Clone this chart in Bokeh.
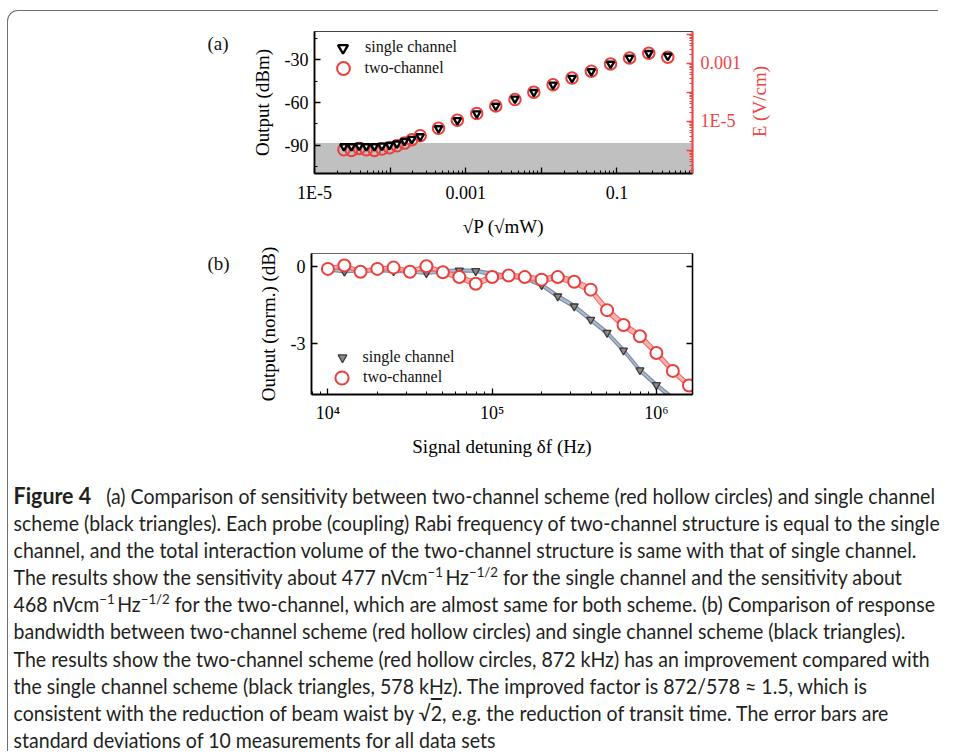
from bokeh.plotting import figure
from bokeh.models import (Range1d, LogAxis, LinearAxis, LogScale, FixedTicker, Legend,
                          LegendItem, BoxAnnotation, Div)
from bokeh.layouts import column, row
from bokeh.embed import file_html
from bokeh.resources import INLINE

SERIF = "Liberation Serif"
RED = "#e8403c"
E_RED = "#ee4444"

# ---------------- panel (a) data ----------------
sqrtP = [2.45e-5, 3.08e-5, 3.9e-5, 4.85e-5, 6.2e-5, 7.8e-5, 9.8e-5, 1.23e-4, 1.55e-4,
         1.94e-4, 2.5e-4, 4.37e-4, 7.76e-4, 1.4e-3, 2.5e-3, 4.48e-3, 7.96e-3, 1.43e-2,
         2.55e-2, 4.59e-2, 8.24e-2, 0.147, 0.264, 0.471]
out_single = [-90.9, -90.9, -90.5, -90.9, -90.9, -90.5, -90.0, -89.0, -87.2, -85.7, -83.9,
              -78.2, -72.5, -67.8, -62.4, -57.4, -52.7, -47.5, -42.8, -38.0, -32.8, -28.6,
              -25.3, -27.2]
out_two = [-93.3, -93.8, -92.4, -93.3, -93.8, -92.8, -91.9, -90.5, -88.6, -86.2, -83.4,
           -78.2, -72.5, -67.8, -62.4, -57.9, -52.7, -47.5, -42.8, -38.0, -32.8, -28.6,
           -25.3, -28.1]
noise_floor = -88.5

xa_major = [1e-5, 1e-4, 1e-3, 1e-2, 1e-1, 1.0]
xa_labels = ["1E-5", "", "0.001", "", "0.1", ""]
ya_major = [-30, -60, -90]
ya_labels = ["-30", "-60", "-90"]
ya_minor = [-15, -45, -75, -105]
e_major = [1e-7, 1e-6, 1e-5, 1e-4, 1e-3, 1e-2, 1e-1]
e_labels = ["", "", "1E-5", "", "0.001", "", ""]

# ---------------- panel (b) data ----------------
detuning = [1.0e4, 1.26e4, 1.58e4, 2.0e4, 2.51e4, 3.16e4, 3.98e4, 5.01e4, 6.31e4, 7.94e4,
            1.0e5, 1.26e5, 1.58e5, 2.0e5, 2.51e5, 3.16e5, 3.98e5, 5.01e5, 6.31e5, 7.94e5,
            1.0e6, 1.26e6, 1.58e6]
norm_two = [-0.10, 0.03, -0.21, -0.10, -0.05, -0.21, 0.00, -0.23, -0.42, -0.68, -0.42,
            -0.36, -0.42, -0.52, -0.42, -0.60, -0.91, -1.71, -2.29, -2.73, -3.38, -4.08,
            -4.65]
err_two = [0.08, 0.07, 0.08, 0.07, 0.08, 0.08, 0.08, 0.09, 0.10, 0.11, 0.10, 0.09, 0.10,
           0.10, 0.11, 0.12, 0.13, 0.14, 0.13, 0.12, 0.12, 0.11, 0.10]
detuning_single = [1.0e4, 1.26e4, 1.58e4, 2.0e4, 2.51e4, 3.16e4, 3.98e4, 5.01e4, 6.31e4,
                   7.94e4, 1.0e5, 1.26e5, 1.58e5, 2.0e5, 2.51e5, 3.16e5, 3.98e5, 5.01e5,
                   6.31e5, 7.94e5, 1.0e6, 1.26e6]
norm_single = [-0.12, -0.20, -0.15, -0.15, -0.18, -0.20, -0.26, -0.20, -0.16, -0.18, -0.30,
               -0.38, -0.45, -0.73, -1.17, -1.56, -2.08, -2.59, -3.28, -4.05, -4.63, -5.15]
err_single = [0.06, 0.06, 0.06, 0.06, 0.06, 0.06, 0.06, 0.06, 0.06, 0.06, 0.07, 0.07, 0.07,
              0.07, 0.08, 0.08, 0.08, 0.08, 0.08, 0.08, 0.08, 0.08]
xb_major = [1e4, 1e5, 1e6]
xb_labels = ["10⁴", "10⁵", "10⁶"]
yb_major = [0, -3]
yb_labels = ["0", "-3"]
yb_right_labels = ["", ""]

caption_lines = [
    "<b style='font-size:23px'>Figure 4</b>&nbsp;&nbsp; (a) Comparison of sensitivity between two-channel scheme (red hollow circles) and single channel",
    "scheme (black triangles). Each probe (coupling) Rabi frequency of two-channel structure is equal to the single",
    "channel, and the total interaction volume of the two-channel structure is same with that of single channel.",
    "The results show the sensitivity about 477 nVcm<sup>−1</sup>&thinsp;Hz<sup>−1/2</sup> for the single channel and the sensitivity about",
    "468 nVcm<sup>−1</sup>&thinsp;Hz<sup>−1/2</sup> for the two-channel, which are almost same for both scheme. (b) Comparison of response",
    "bandwidth between two-channel scheme (red hollow circles) and single channel scheme (black triangles).",
    "The results show the two-channel scheme (red hollow circles, 872 kHz) has an improvement compared with",
    "the single channel scheme (black triangles, 578 kHz). The improved factor is 872/578 ≈ 1.5, which is",
    "consistent with the reduction of beam waist by √<span style='text-decoration:overline'>2</span>, e.g. the reduction of transit time. The error bars are",
    "standard deviations of 10 measurements for all data sets",
]


def log_minor(decades):
    return [m * d for d in decades for m in range(2, 10)]


def style_axis(ax, color="black", width=1.8):
    ax.axis_line_color = color
    ax.axis_line_width = width
    ax.major_tick_line_color = color
    ax.minor_tick_line_color = color
    ax.major_tick_in = 6
    ax.major_tick_out = 0
    ax.minor_tick_in = 3
    ax.minor_tick_out = 0
    ax.major_tick_line_width = 1.3
    ax.minor_tick_line_width = 1
    ax.major_label_text_font = SERIF
    ax.major_label_text_font_size = "18px"
    ax.major_label_text_color = color
    ax.axis_label_text_font = SERIF
    ax.axis_label_text_font_size = "19px"
    ax.axis_label_text_font_style = "normal"
    ax.axis_label_text_color = color


def add_legend(p, renderer, text, glyph, loc, standoff):
    leg = Legend(items=[LegendItem(label=text, renderers=[renderer])], location=loc,
                 glyph_width=glyph, glyph_height=glyph, label_height=glyph,
                 label_standoff=standoff, padding=0, margin=0, spacing=0,
                 border_line_color=None, background_fill_alpha=0,
                 label_text_font=SERIF, label_text_font_size="16px",
                 label_text_color="#111")
    p.add_layout(leg)


def panel_tag(text, height, pad_top):
    return Div(text=("<div style=\"padding:%dpx 0 0 200px; font-family:'Liberation Serif';"
                     " font-size:19px; line-height:22px; color:#111;\">%s</div>")
                    % (pad_top, text),
               width=240, height=height, margin=0)


# ---------------- panel (a) ----------------
pa = figure(width=501, height=229, x_axis_type="log", x_range=Range1d(1e-5, 1.0),
            y_range=Range1d(-110, -10), output_backend="svg", toolbar_location=None,
            min_border_left=63, min_border_right=57, min_border_top=20,
            min_border_bottom=67)
pa.grid.visible = False
pa.outline_line_color = "#444"
pa.outline_line_width = 1.2

pa.add_layout(BoxAnnotation(top=noise_floor, fill_color="#c0c0c0", fill_alpha=1.0,
                            line_color=None, level="underlay"))

r_two = pa.scatter(sqrtP, out_two, marker="circle", size=11.5, line_color=RED,
                   line_width=2, fill_color=None)
r_single = pa.scatter(sqrtP, out_single, marker="inverted_triangle", size=7.5,
                      line_color="black", line_width=2.4, fill_color="white")

pa.xaxis.ticker = FixedTicker(ticks=xa_major, minor_ticks=log_minor(xa_major[:-1]))
pa.xaxis.major_label_overrides = dict(zip(xa_major, xa_labels))
pa.xaxis.axis_label = "√P (√mW)"
pa.yaxis.ticker = FixedTicker(ticks=ya_major, minor_ticks=ya_minor)
pa.yaxis.major_label_overrides = dict(zip(ya_major, ya_labels))
pa.yaxis.axis_label = "Output (dBm)"
for ax in pa.xaxis + pa.yaxis:
    style_axis(ax)
pa.xaxis.major_label_standoff = 9
pa.xaxis.axis_label_standoff = 10
pa.yaxis.major_label_standoff = 6
pa.yaxis.axis_label_standoff = 9

pa.extra_y_ranges = {"E": Range1d(10 ** -6.8, 10 ** -1.9)}
pa.extra_y_scales = {"E": LogScale()}
raxis = LogAxis(y_range_name="E",
                ticker=FixedTicker(ticks=e_major, minor_ticks=log_minor(e_major[:-1])),
                major_label_overrides=dict(zip(e_major, e_labels)))
style_axis(raxis, color=E_RED, width=2)
raxis.major_label_standoff = 8
pa.add_layout(raxis, "right")

add_legend(pa, r_single, "single channel", 25, (16.5, 113.5), 10)
add_legend(pa, r_two, "two-channel", 32, (13, 89), 6)

# right-axis title, read bottom to top like the reference
e_title = Div(text=("<div style=\"margin-top:20px; width:22px; height:141px; display:flex;"
                    " align-items:center; justify-content:center;\"><span style=\""
                    "writing-mode:vertical-rl; transform:rotate(180deg); white-space:nowrap;"
                    " font-family:'Liberation Serif'; font-size:19px; color:" + E_RED + ";\">"
                    "E (V/cm)</span></div>"),
              width=40, height=229, margin=0)

# ---------------- panel (b) ----------------
pb = figure(width=561, height=226, x_axis_type="log", x_range=Range1d(10 ** 3.9, 10 ** 6.22),
            y_range=Range1d(-5.0, 0.5), output_backend="svg", toolbar_location=None,
            min_border_left=63, min_border_right=117, min_border_top=13,
            min_border_bottom=72)
pb.grid.visible = False
pb.outline_line_color = "#666"
pb.outline_line_width = 1.2

s_lo = [v - e for v, e in zip(norm_single, err_single)]
s_hi = [v + e for v, e in zip(norm_single, err_single)]
t_lo = [v - e for v, e in zip(norm_two, err_two)]
t_hi = [v + e for v, e in zip(norm_two, err_two)]

pb.varea(x=detuning_single, y1=s_lo, y2=s_hi, fill_color="#a9b4c8", fill_alpha=0.9)
pb.line(detuning_single, s_lo, line_color="#7d8ca8", line_width=1.2)
pb.line(detuning_single, s_hi, line_color="#7d8ca8", line_width=1.2)
rb_single = pb.scatter(detuning_single, norm_single, marker="inverted_triangle", size=8,
                       line_color="#3a3a3a", line_width=1.3, fill_color="#8a8a8a")

pb.varea(x=detuning, y1=t_lo, y2=t_hi, fill_color="#f5a3a3", fill_alpha=0.85)
pb.line(detuning, t_lo, line_color="#ec6a6a", line_width=1.1)
pb.line(detuning, t_hi, line_color="#ec6a6a", line_width=1.1)
rb_two = pb.scatter(detuning, norm_two, marker="circle", size=12, line_color=RED,
                    line_width=2, fill_color="white")

pb.xaxis.ticker = FixedTicker(ticks=xb_major, minor_ticks=log_minor([1e3] + xb_major))
pb.xaxis.major_label_overrides = dict(zip(xb_major, xb_labels))
pb.xaxis.axis_label = "Signal detuning δf (Hz)"
pb.yaxis.ticker = FixedTicker(ticks=yb_major)
pb.yaxis.major_label_overrides = dict(zip(yb_major, yb_labels))
pb.yaxis.axis_label = "Output (norm.) (dB)"
for ax in pb.xaxis + pb.yaxis:
    style_axis(ax)
pb.xaxis.major_label_standoff = 8
pb.xaxis.axis_label_standoff = 10
pb.yaxis.major_label_standoff = 6
pb.yaxis.axis_label_standoff = 9

rax_b = LinearAxis(ticker=FixedTicker(ticks=yb_major),
                   major_label_overrides=dict(zip(yb_major, yb_right_labels)))
style_axis(rax_b, width=1.5)
pb.add_layout(rax_b, "right")

add_legend(pb, rb_single, "single channel", 22, (20, 26), 10)
add_legend(pb, rb_two, "two-channel", 33, (14.5, 0.5), 5)

# ---------------- caption ----------------
sup_css = "<sup style='font-size:0.68em; line-height:0; vertical-align:0.55em'>"
html = "<br>".join(caption_lines).replace("<sup>", sup_css)
cap = Div(text=("<div style=\"padding:16px 0 0 6px; font-family:'Lato',sans-serif;"
                " font-size:21px; line-height:27.1px; color:#231f20; white-space:nowrap;"
                " transform:scaleX(0.93); transform-origin:0 0;\">" + html + "</div>"),
          width=930, height=285, margin=0)

layout = column(row(panel_tag("(a)", 229, 22), pa, e_title),
                row(panel_tag("(b)", 226, 13), pb),
                cap,
                styles={"border-top": "1.5px solid #6f6f6f",
                        "border-left": "1.5px solid #6f6f6f",
                        "border-top-left-radius": "11px",
                        "margin-top": "10px", "margin-left": "6.5px"})

open("out.html", "w").write(file_html(layout, INLINE))
